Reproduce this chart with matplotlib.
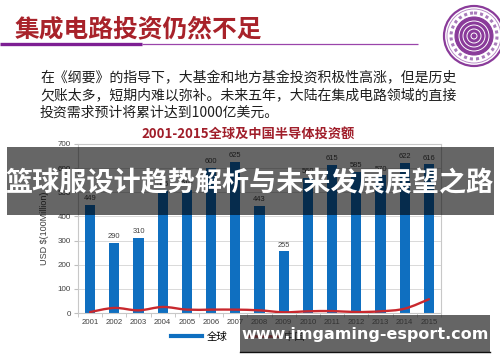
import matplotlib
matplotlib.use("Agg")
import matplotlib.pyplot as plt
from matplotlib.lines import Line2D
from matplotlib.patches import Rectangle, Circle, PathPatch
from matplotlib.path import Path
import numpy as np

# ---------------- data ----------------
years = ["2001", "2002", "2003", "2004", "2005", "2006", "2007", "2008",
         "2009", "2010", "2011", "2012", "2013", "2014", "2015"]
global_invest = [449, 290, 310, 505, 510, 600, 625, 443, 255, 560, 615, 585, 570, 622, 616]
china_invest = [4, 21, 11, 25, 14, 14, 14, 11, 3, 7, 8, 4, 7, 18, 57]
yticks = [0, 100, 200, 300, 400, 500, 600, 700]

header_title = "集成电路投资仍然不足"
body_lines = ["在《纲要》的指导下，大基金和地方基金投资积极性高涨，但是历史",
              "欠账太多，短期内难以弥补。未来五年，大陆在集成电路领域的直接",
              "投资需求预计将累计达到1000亿美元。"]
chart_title = "2001-2015全球及中国半导体投资额"
ylabel = "USD $(100Million)"
legend_labels = ["全球", "中国"]
banner_text = "篮球服设计趋势解析与未来发展展望之路"
site_text = "www.imgaming-esport.com"

CJK = ["Noto Sans CJK SC", "DejaVu Sans"]
LAT = ["Liberation Sans", "DejaVu Sans"]

BLUE = "#0f6fc0"
RED = "#c8282e"

W, H = 500, 362
fig = plt.figure(figsize=(W / 100, H / 100), dpi=100)
fig.patch.set_facecolor("white")

# ---------------- chart ----------------
ax = fig.add_axes([78 / W, 1 - 313 / H, (441 - 78) / W, (313 - 144) / H])
x = np.arange(len(years))
bars = ax.bar(x, global_invest, width=0.42, color=BLUE, zorder=2)
ax.bar_label(bars, labels=[str(v) for v in global_invest], padding=2,
             fontsize=5.4, color="#404040", family=LAT)

# smooth line for China series (Catmull-Rom -> cubic Bezier in data coords)
pts = np.column_stack([x, china_invest]).astype(float)
verts = [tuple(pts[0])]
codes = [Path.MOVETO]
for i in range(len(pts) - 1):
    p0 = pts[i - 1] if i > 0 else pts[i]
    p1 = pts[i]
    p2 = pts[i + 1]
    p3 = pts[i + 2] if i + 2 < len(pts) else pts[i + 1]
    c1 = p1 + (p2 - p0) / 6.0
    c2 = p2 - (p3 - p1) / 6.0
    verts += [tuple(c1), tuple(c2), tuple(p2)]
    codes += [Path.CURVE4] * 3
ax.add_patch(PathPatch(Path(verts, codes), facecolor="none", edgecolor=RED,
                       lw=1.7, zorder=3, capstyle="round"))

ax.set_xlim(-0.5, len(years) - 0.5)
ax.set_ylim(0, 700)
ax.set_yticks(yticks)
ax.set_yticklabels([str(v) for v in yticks], fontsize=5.8, color="#404040", family=LAT)
ax.set_xticks(x)
ax.set_xticklabels(years, fontsize=5.6, color="#404040", family=LAT)
ax.set_xticks(np.arange(-0.5, len(years), 1.0), minor=True)
ax.tick_params(axis="x", which="major", length=0, pad=4)
ax.tick_params(axis="x", which="minor", length=3, color="#bfbfbf")
ax.tick_params(axis="y", length=3, color="#bfbfbf", pad=2)
ax.grid(axis="y", color="#d9d9d9", lw=0.7, zorder=0)
ax.set_axisbelow(True)
for s in ax.spines.values():
    s.set_color("#c8c8c8")
    s.set_linewidth(0.8)
ax.set_ylabel(ylabel, fontsize=6.5, color="#404040", family=LAT, labelpad=6)

# legend
handles = [Line2D([0], [0], color=BLUE, lw=3), Line2D([0], [0], color=RED, lw=2)]
fig.legend(handles, legend_labels, ncol=2, loc="center left",
           bbox_to_anchor=(162 / W, 1 - 337 / H), bbox_transform=fig.transFigure,
           frameon=False, prop={"family": CJK, "size": 7.5},
           handlelength=2.9, handletextpad=0.5, columnspacing=2.0)

# ---------------- overlay (pixel coordinates) ----------------
ov = fig.add_axes([0, 0, 1, 1], zorder=10)
ov.set_xlim(0, W)
ov.set_ylim(H, 0)
ov.axis("off")
ov.patch.set_alpha(0)

# header
ov.text(15, 29, header_title, fontsize=17.8, color="#a8222a", fontweight="bold",
        family=CJK, va="center", ha="left")
ov.plot([0, 142], [44, 44], color="#7d1f93", lw=2.4, solid_capstyle="butt")
ov.plot([142, 418], [44, 44], color="#9a45aa", lw=0.9, solid_capstyle="butt")

# logo
ov.add_patch(Circle((474, 36), 30, facecolor="white", edgecolor="#8a3b9a", lw=1.6))
ov.add_patch(Circle((474, 36), 27, facecolor="none", edgecolor="#b07ec0", lw=0.6))
ov.add_patch(Circle((474, 36), 19, facecolor="#8a3b9a", edgecolor="#8a3b9a", lw=0.8))
for r in [15, 11, 7, 3]:
    ov.add_patch(Circle((474, 36), r, facecolor="none", edgecolor="white", lw=0.7))
ov.add_patch(Circle((474, 36), 23, facecolor="none", edgecolor="#a97bbb", lw=2.2,
                    linestyle=(0, (1, 1))))

# body text
for i, line in enumerate(body_lines):
    ov.text(40, 78 + i * 17.5, line, fontsize=10, color="#1e1e1e", family=CJK,
            va="center", ha="left")

# chart title
ov.text(248, 134, chart_title, fontsize=9.5, color="#a01e2a", fontweight="bold",
        family=CJK, va="center", ha="center")

# big banner
ov.add_patch(Rectangle((7, 147), 487, 68, facecolor="black", alpha=0.6, lw=0))
ov.text(250, 183, banner_text, fontsize=19.5, color="white", fontweight="bold",
        family=CJK, va="center", ha="center")

# bottom site banner
ov.add_patch(Rectangle((240, 315), 250, 37, facecolor="#2a2a2a", alpha=0.72, lw=0))
ov.plot([240, 490], [352, 352], color="#111111", lw=1.0)
ov.text(365, 335, site_text, fontsize=11.5, color="white", fontweight="bold",
        family=["DejaVu Sans"], va="center", ha="center")

fig.savefig("out.png", dpi=100, facecolor="white")
